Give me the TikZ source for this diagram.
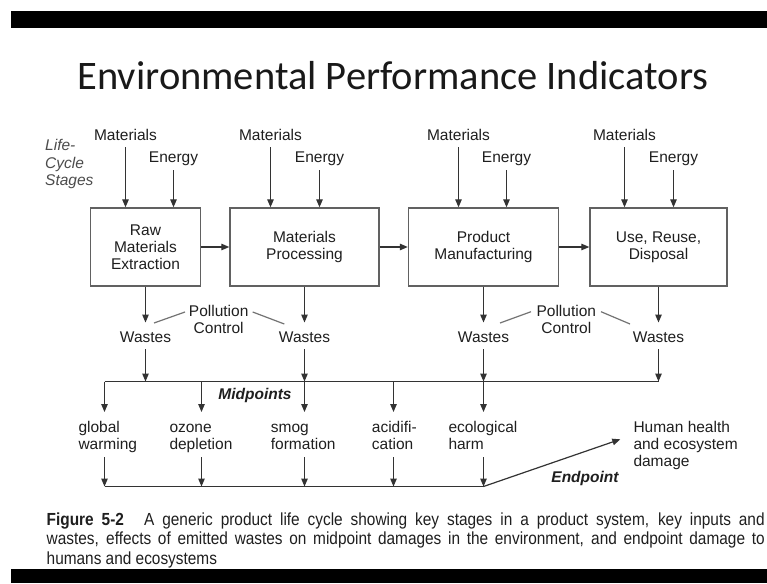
\documentclass[tikz,border=0pt]{standalone}
\usepackage{fontspec}
\setmainfont{Liberation Sans}
\newfontfamily\titlefont{Carlito}
\newfontfamily\capfont[FakeStretch=0.88]{Liberation Sans}
\usetikzlibrary{arrows.meta}
\newcommand\lstr{\rule[-4.6pt]{0pt}{16pt}}
\definecolor{ink}{gray}{0.12}
\definecolor{linec}{gray}{0.2}
\definecolor{boxc}{gray}{0.38}
\definecolor{stagec}{gray}{0.3}
\begin{document}
\begin{tikzpicture}[x=1pt,y=-1pt,
  lab/.style={font=\fontsize{15.5}{16.7}\selectfont, text=ink, inner sep=0pt},
  slab/.style={lab, text height=11.4pt, text depth=4.6pt, inner ysep=2.5pt},
  mlab/.style={lab, align=left, anchor=north west},
  stagebox/.style={draw=boxc, line width=1.4pt, fill=white, font=\fontsize{15.5}{17}\selectfont, text=ink, align=center, inner sep=0pt},
  ln/.style={draw=linec, line width=1.2pt},
  arr/.style={ln, -{Triangle[length=8pt,width=6.5pt]}},
  emph/.style={lab, font=\fontsize{15.5}{16.7}\selectfont\bfseries\itshape, anchor=base}
]
\useasboundingbox (0,0) rectangle (767,583);
\fill[white] (0,0) rectangle (767,583);
\fill[black] (11,11) rectangle (767,28.5);
\fill[black] (11,569) rectangle (767,583);

% title
\node[font=\titlefont\fontsize{40.5}{44}\selectfont, text=black!90, anchor=base, inner sep=0pt] (title) at (393,90) {Environmental Performance Indicators};

% life-cycle stages
\node[lab, align=left, anchor=north west, text=stagec, font=\fontsize{15.5}{17.2}\selectfont\itshape] (lcs) at (45,139.3) {\lstr Life-\\\lstr Cycle\\\lstr Stages};

% stages
\node[stagebox, minimum width=110pt, minimum height=78pt] (box1) at (145.5,247) {Raw\\Materials\\Extraction};
\node[stagebox, minimum width=149pt, minimum height=78pt] (box2) at (304.5,247) {Materials\\Processing};
\node[stagebox, minimum width=150pt, minimum height=78pt] (box3) at (483.5,247) {Product\\Manufacturing};
\node[stagebox, minimum width=137pt, minimum height=78pt] (box4) at (658.5,247) {Use, Reuse,\\Disposal};

% inputs
\node[slab] (mat1) at (125.5,136.7) {Materials};
\node[slab] (en1) at (173.5,159.3) {Energy};
\node[slab] (mat2) at (270.5,136.7) {Materials};
\node[slab] (en2) at (319.5,159.3) {Energy};
\node[slab] (mat3) at (458.5,136.7) {Materials};
\node[slab] (en3) at (506.5,159.3) {Energy};
\node[slab] (mat4) at (624.5,136.7) {Materials};
\node[slab] (en4) at (673.5,159.3) {Energy};
\foreach \m/\b in {mat1/box1,en1/box1,mat2/box2,en2/box2,mat3/box3,en3/box3,mat4/box4,en4/box4}
  \draw[arr] (\m.south) -- (\m.south |- \b.north);

\draw[arr] (box1.east) -- (box2.west);
\draw[arr] (box2.east) -- (box3.west);
\draw[arr] (box3.east) -- (box4.west);

% wastes
\node[slab] (w1) at (145.5,338.7) {Wastes};
\node[slab] (w2) at (304.5,338.7) {Wastes};
\node[slab] (w3) at (483.5,338.7) {Wastes};
\node[slab] (w4) at (658.5,338.7) {Wastes};
\draw[arr, shorten >=5.5pt] (box1.south) -- (w1.north -| box1.south);
\draw[arr, shorten >=5.5pt] (box2.south) -- (w2.north -| box2.south);
\draw[arr, shorten >=5.5pt] (box3.south) -- (w3.north -| box3.south);
\draw[arr, shorten >=5.5pt] (box4.south) -- (w4.north -| box4.south);

% pollution control
\node[lab, align=center, anchor=north] (pc1) at (218.7,305) {Pollution\\Control};
\node[lab, align=center, anchor=north] (pc2) at (566.3,305) {Pollution\\Control};
\coordinate (p1a) at (154,323);   \coordinate (p1b) at (185,312);
\coordinate (p1c) at (252.7,312); \coordinate (p1d) at (284.3,324);
\coordinate (p2a) at (500,323);   \coordinate (p2b) at (531,311.7);
\coordinate (p2c) at (601,311.7); \coordinate (p2d) at (630,324);
\draw[draw=black!55, line width=1.2pt] (p1a) -- (p1b) (p1c) -- (p1d) (p2a) -- (p2b) (p2c) -- (p2d);

% midpoint bar
\coordinate (bar) at (0,381.5);
\coordinate (bot) at (0,486.5);
\coordinate (m1) at (104.5,381.5);
\coordinate (m2) at (201.5,381.5);
\coordinate (m3) at (304.5,381.5);
\coordinate (m4) at (393.5,381.5);
\coordinate (m5) at (483.5,381.5);
\draw[ln] (m1) -- (w4.south |- bar);
\draw[arr] (w1.south) -- (w1.south |- bar);
\draw[arr] (w2.south) -- (w2.south |- bar);
\draw[arr] (w3.south) -- (w3.south |- bar);
\draw[arr] (w4.south) -- (w4.south |- bar);

\node[emph] (mid) at (255,399.3) {Midpoints};

% midpoint labels
\node[mlab] (gw) at (78.3,421.3) {\lstr global\\\lstr warming};
\node[mlab] (oz) at (169.3,421.3) {\lstr ozone\\\lstr depletion};
\node[mlab] (sm) at (270.7,421.3) {\lstr smog\\\lstr formation};
\node[mlab] (ac) at (371.7,421.3) {\lstr acidifi-\\\lstr cation};
\node[mlab] (eh) at (448.3,421.3) {\lstr ecological\\\lstr harm};
\node[mlab] (hh) at (633.3,421.3) {\lstr Human health\\\lstr and ecosystem\\\lstr damage};

\foreach \c/\l in {m1/gw,m2/oz,m3/sm,m4/ac,m5/eh} {
  \draw[arr, shorten >=9.3pt] (\c) -- (\c |- \l.north);
  \draw[arr, shorten <=2.7pt] (\c |- \l.south) -- (\c |- bot);
}
\draw[ln] (m1 |- bot) -- (m5 |- bot);
\coordinate (hhtip) at (620.3,439.3);
\draw[arr] (m5 |- bot) -- (hhtip);
\node[emph] (endp) at (585,482.7) {Endpoint};

% caption
\node[anchor=north west, inner sep=0pt, align=left, text=ink,
      font=\capfont\fontsize{17.5}{19.5}\selectfont] (cap) at (46.5,512.5) {%
\rule{0pt}{12.5pt}\makebox[718pt][s]{\textbf{Figure 5-2}\hspace{0.7em} A generic product life cycle showing key stages in a product system, key inputs and}\\
\makebox[718pt][s]{wastes, effects of emitted wastes on midpoint damages in the environment, and endpoint damage to}\\
humans and ecosystems};
\end{tikzpicture}
\end{document}
